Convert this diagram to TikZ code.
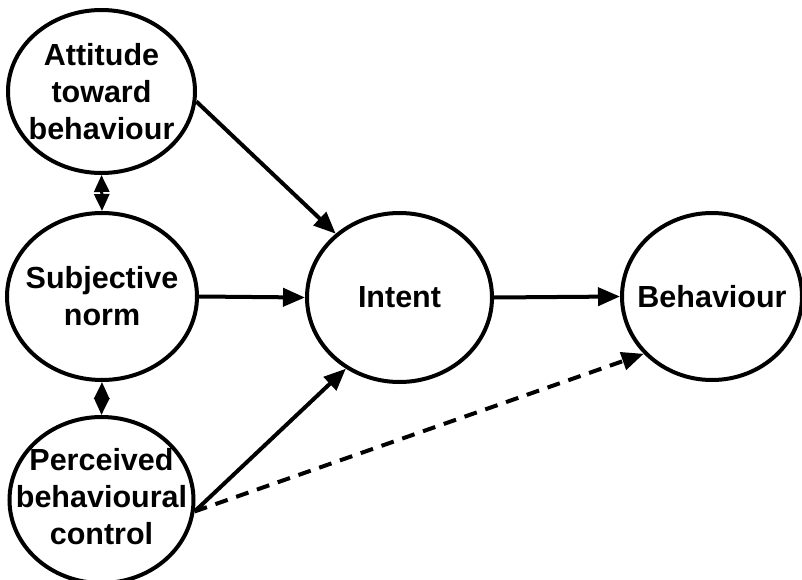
\documentclass[tikz,border=0pt]{standalone}
\usepackage{fontspec}
\setmainfont{Liberation Sans}
\usetikzlibrary{arrows.meta,shapes.geometric}
\begin{document}
\begin{tikzpicture}[x=1pt,y=-1pt,
  bubble/.style={ellipse,draw,line width=4pt,inner sep=0pt},
  txt/.style={align=center,inner sep=0pt,font=\bfseries\fontsize{30.5}{37}\selectfont},
  conn/.style={line width=4pt,-{Triangle[length=22pt,width=18pt]}},
  dconn/.style={conn,dash pattern=on 13pt off 9pt},
  link/.style={line width=3pt,{Triangle[length=17pt,width=15pt]}-{Triangle[length=17pt,width=15pt]}}]
\useasboundingbox (0,0) rectangle (802,580);
\node[bubble,minimum width=187pt,minimum height=163pt] (att) at (101.5,91.5) {};
\node[bubble,minimum width=190pt,minimum height=167pt] (sub) at (102,296.5) {};
\node[bubble,minimum width=184pt,minimum height=166pt] (per) at (101.5,500) {};
\node[bubble,minimum width=185pt,minimum height=169pt] (int) at (399.5,297.5) {};
\node[bubble,minimum width=180pt,minimum height=167pt] (beh) at (712,296.5) {};
\node[txt] (attt) at (att) {Attitude\\toward\\behaviour};
\node[txt] (subt) at (sub) {Subjective\\norm};
\node[txt] (pert) at (101.5,497) {Perceived\\behavioural\\control};
\node[txt] (intt) at (int) {Intent};
\node[txt] (beht) at (beh) {Behaviour};
\draw[link] (att.south) -- (sub.north);
\draw[link] (sub.south) -- (per.north);
\draw[conn] (att.-6) -- (int.135);
\draw[conn] (sub.east) -- (int.west);
\draw[conn] (per.-7) -- (int.233);
\draw[conn] (int.east) -- (beh.west);
\draw[dconn] (per.-7) -- (beh.220);
\end{tikzpicture}
\end{document}
